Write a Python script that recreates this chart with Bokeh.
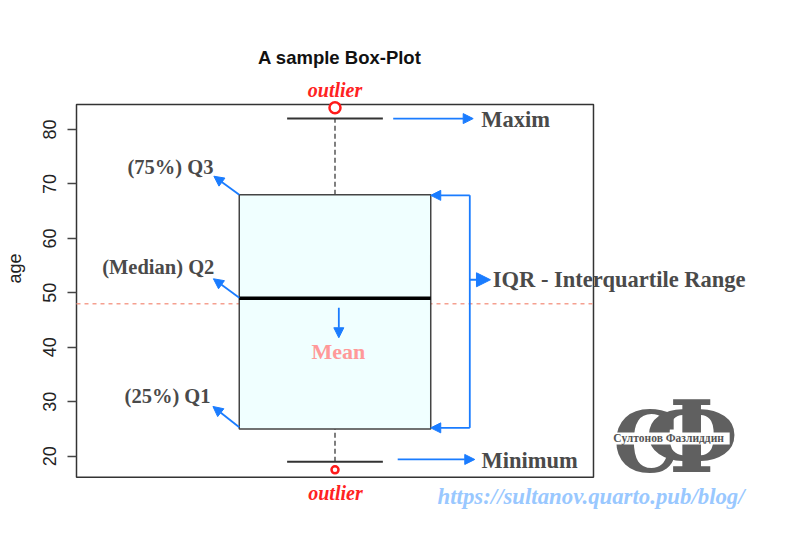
from bokeh.plotting import figure
from bokeh.models import Label, Arrow, NormalHead, FixedTicker, Range1d
from bokeh.embed import file_html
from bokeh.resources import INLINE

# ---- data ----
box_x = [1]
q1 = [25]
median = [49]
q3 = [68]
whisker_low = [19]
whisker_high = [82]
outlier_high = [84]
outlier_low = [17.5]
mean_value = [48]
y_ticks = [20, 30, 40, 50, 60, 70, 80]
title_text = "A sample Box-Plot"
y_label = "age"

# plotting region of the original (data units)
X0, X1 = 0.46, 1.54
Y0, Y1 = 16.14, 84.59

BLUE = "#1a7cff"
DARK = "#4a4a4a"
SERIF = "Liberation Serif"

p = figure(width=785, height=536, min_border=0, output_backend="svg",
           toolbar_location=None,
           x_range=Range1d(0.30123, 1.94111), y_range=Range1d(5.25, 103.69),
           x_axis_location=None)
p.grid.visible = False
p.outline_line_color = None
p.background_fill_color = "white"
p.border_fill_color = "white"

ax = p.yaxis[0]
ax.fixed_location = X0
ax.ticker = FixedTicker(ticks=y_ticks)
ax.axis_line_color = None
ax.major_tick_in = 0
ax.major_tick_out = 9
ax.major_tick_line_color = "#444444"
ax.major_tick_line_width = 1.5
ax.minor_tick_line_color = None
ax.major_label_orientation = "vertical"
ax.major_label_standoff = 11
ax.major_label_text_font = "Liberation Sans"
ax.major_label_text_font_size = "18px"
ax.major_label_text_color = "#222222"
ax.axis_label = y_label
ax.axis_label_text_font = "Liberation Sans"
ax.axis_label_text_font_style = "normal"
ax.axis_label_text_font_size = "18px"
ax.axis_label_text_color = "#222222"
ax.axis_label_standoff = 16

# plot frame (R box)
p.quad(left=[X0], right=[X1], bottom=[Y0], top=[Y1], fill_color=None,
       line_color="#333333", line_width=1.5)

# mean line
p.segment(x0=[X0], y0=mean_value, x1=[X1], y1=mean_value, line_color="#f5a090",
          line_dash="4 4", line_width=1.5)

# whiskers
p.segment(x0=box_x, y0=q3, x1=box_x, y1=whisker_high, line_color="#555555",
          line_width=1.5, line_dash="5 3")
p.segment(x0=box_x, y0=whisker_low, x1=box_x, y1=q1, line_color="#555555",
          line_width=1.5, line_dash="5 3")
cap_l = [x - 0.1 for x in box_x]
cap_r = [x + 0.1 for x in box_x]
p.segment(x0=cap_l, y0=whisker_high, x1=cap_r, y1=whisker_high,
          line_color="#333333", line_width=2)
p.segment(x0=cap_l, y0=whisker_low, x1=cap_r, y1=whisker_low,
          line_color="#333333", line_width=2)

# box
p.vbar(x=box_x, width=0.4, bottom=q1, top=q3, fill_color="#f0ffff",
       line_color="#444444", line_width=1.5)
med_l = [x - 0.2 for x in box_x]
med_r = [x + 0.2 for x in box_x]
p.segment(x0=med_l, y0=median, x1=med_r, y1=median, line_color="black",
          line_width=3.5)

# outliers
p.scatter(x=box_x, y=outlier_high, size=11, marker="circle",
          fill_color="white", line_color="#ff1a1a", line_width=2.5)
p.scatter(x=box_x, y=outlier_low, size=7, marker="circle",
          fill_color="white", line_color="#ff1a1a", line_width=2.5)

# arrows
def arrow(x0, y0, x1, y1, size=10):
    p.add_layout(Arrow(end=NormalHead(size=size, fill_color=BLUE, line_color=BLUE,
                                      line_width=1),
                       x_start=x0, y_start=y0, x_end=x1, y_end=y1,
                       line_color=BLUE, line_width=1.8))

arrow(0.8, q3[0], 0.747, 71.42)
arrow(0.8, median[0] + 0.1, 0.746, 52.58)
arrow(0.8, q1[0] + 0.3, 0.745, 29.13)
arrow(1.008, 47.25, 1.008, 41.75)
arrow(1.1216, whisker_high[0], 1.2887, whisker_high[0])
arrow(1.131, 19.4, 1.292, 19.4)
arrow(1.2816, 67.9, 1.2, 67.9)
arrow(1.2816, 25.2, 1.2, 25.2)
p.segment(x0=[1.2816], y0=[67.9], x1=[1.2816], y1=[25.2], line_color=BLUE,
          line_width=1.8)
arrow(1.2816, 52.4, 1.3248, 52.4, size=14)

# labels
def label(x, y, text, size, color=DARK, align="left", style="bold", font=SERIF,
          **kw):
    p.add_layout(Label(x=x, y=y, text=text, text_font=font,
                       text_font_size=f"{size}px", text_font_style=style,
                       text_color=color, text_align=align,
                       text_baseline="middle", **kw))

label(1.01, 93.2, title_text, 18.5, color="#111111", align="center",
      font="Liberation Sans")
label(0.7462, 73.1, "(75%) Q3", 20.5, align="right")
label(0.748, 54.7, "(Median) Q2", 20.5, align="right")
label(0.740, 31.0, "(25%) Q1", 20.5, align="right")
label(1.3055, 81.9, "Maxim", 22.5)
label(1.3297, 52.5, "IQR - Interquartile Range", 22.5)
label(1.306, 19.2, "Minimum", 22.5)
label(1.007, 39.3, "Mean", 22, color="#ff9999", align="center")
label(1.0, 87.2, "outlier", 20, color="#ff2222", align="center",
      style="bold italic")
label(1.001, 13.3, "outlier", 20, color="#ff2222", align="center",
      style="bold italic")
label(1.535, 12.6, "https://sultanov.quarto.pub/blog/", 22.8, color="#99c8ff",
      align="center", style="bold italic")

# logo
label(1.650, 22.6, "С", 84, color="#606060", align="center",
      font="DejaVu Serif")
label(1.745, 23.6, "Ф", 99, color="#606060", align="center",
      font="DejaVu Serif")
label(1.697, 23.25, "\u00a0\u00a0Султонов Фазлиддин\u00a0\u00a0", 11.5,
      color="#555555", align="center", background_fill_color="white")

open("out.html", "w").write(file_html(p, INLINE))
